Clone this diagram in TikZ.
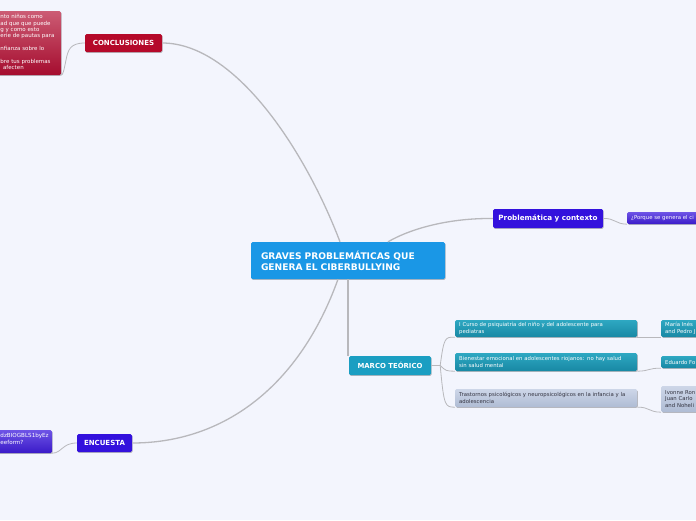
\documentclass[tikz,border=0pt]{standalone}
\usepackage{fontspec}
\setmainfont{DejaVu Sans}
\usetikzlibrary{shadows}
\definecolor{bg}{HTML}{F3F5FD}
\definecolor{linec}{HTML}{B8B8BC}
\definecolor{cblue}{HTML}{1A97E6}
\definecolor{cred}{HTML}{B5092A}
\definecolor{cindigo}{HTML}{3311DD}
\definecolor{cteal}{HTML}{1A9EC2}
\definecolor{tealtop}{HTML}{2EA8C2}
\definecolor{tealbot}{HTML}{1888A4}
\definecolor{graytop}{HTML}{CDD6E8}
\definecolor{graybot}{HTML}{AFBCD4}
\definecolor{purtop}{HTML}{6E54E6}
\definecolor{purbot}{HTML}{3A1AC8}
\definecolor{redtop}{HTML}{CC5C74}
\definecolor{redbot}{HTML}{A50C2E}
\definecolor{darktext}{HTML}{333340}
\tikzset{
  shadowed/.style={drop shadow={shadow xshift=0.6pt,shadow yshift=-0.9pt,opacity=0.25,fill=black}},
  topic/.style={shadowed,rounded corners=1.5pt,text=white,font=\bfseries\fontsize{7}{8.5}\selectfont,inner sep=0pt,align=center},
  mainbox/.style={shadowed,rounded corners=1.5pt,fill=cblue,text=white,font=\bfseries\fontsize{9.1}{11}\selectfont,align=left,inner xsep=10pt,inner ysep=0pt},
  sub/.style={shadowed,rounded corners=1.5pt,font=\fontsize{5.35}{6.4}\selectfont,align=left,inner xsep=4pt,inner ysep=0pt,anchor=west},
  tealsub/.style={sub,top color=tealtop,bottom color=tealbot,text=white},
  graysub/.style={sub,top color=graytop,bottom color=graybot,text=darktext},
  pursub/.style={sub,top color=purtop,bottom color=purbot,text=white},
  mainline/.style={draw=linec,line width=1.3pt},
  subline/.style={draw=linec,line width=0.8pt}
}
\begin{document}
\begin{tikzpicture}[x=1pt,y=-1pt]
\useasboundingbox (0,0) rectangle (696,520);
\fill[bg] (0,0) rectangle (696,520);
\clip (0,0) rectangle (696,520);

% central
\node[mainbox,minimum width=194pt,minimum height=37pt,text width=174pt] (c) at (348,260.5)
  {GRAVES PROBLEMÁTICAS QUE\\GENERA EL CIBERBULLYING};

% topics
\node[topic,fill=cred,minimum width=77pt,minimum height=18pt] (concl) at (123.5,43) {CONCLUSIONES};
\node[topic,fill=cindigo,minimum width=110pt,minimum height=19pt,font=\bfseries\fontsize{7.2}{9}\selectfont] (prob) at (548,218.5) {Problemática y contexto};
\node[topic,fill=cteal,minimum width=82pt,minimum height=19pt,font=\bfseries\fontsize{6.9}{8}\selectfont] (marco) at (390,365.5) {MARCO TEÓRICO};
\node[topic,fill=cindigo,minimum width=55pt,minimum height=18pt] (enc) at (104.5,443) {ENCUESTA};

% left subtopics
\node[shadowed,rounded corners=1.5pt,top color=redtop,bottom color=redbot,minimum width=71pt,minimum height=64pt,inner sep=0pt] (conclsub) at (25.5,43) {};
\node[anchor=north west,text=white,font=\fontsize{5.5}{6.4}\selectfont,align=left,inner sep=0pt] (concltext) at (0.3,14.2)
  {nto niños como\\ad que que puede\\g y como esto\\erie de pautas para\\ \\nfianza sobre lo\\ \\bre tus problemas\\\hspace{2.5pt}afecten};

\node[shadowed,rounded corners=1.5pt,top color=purtop,bottom color=purbot,minimum width=57pt,minimum height=23pt,inner sep=0pt] (encsub) at (23.5,441.5) {};
\node[anchor=north west,text=white,font=\fontsize{5.6}{6.8}\selectfont,align=left,inner sep=0pt] (enctext) at (0.3,432.8)
  {dzBIOGBLS1byEz\\eeform?};

% problematica subtopic
\node[pursub,minimum width=75pt,minimum height=12pt,text width=67pt] (probsub) at (627,218) {¿Porque se genera el ci};

% marco children
\node[tealsub,minimum width=182pt,minimum height=17pt,text width=174pt] (m1) at (455,328.5)
  {I Curso de psiquiatría del niño y del adolescente para\\pediatras};
\node[tealsub,minimum width=182pt,minimum height=18pt,text width=174pt] (m2) at (455,362)
  {Bienestar emocional en adolescentes riojanos: no hay salud\\sin salud mental};
\node[graysub,minimum width=182pt,minimum height=18pt,text width=174pt] (m3) at (455,398)
  {Trastornos psicológicos y neuropsicológicos en la infancia y la\\adolescencia};

% grandchildren
\node[tealsub,minimum width=45pt,minimum height=17pt,text width=37pt] (g1) at (661,328.5) {María Inés\\and Pedro J};
\node[tealsub,minimum width=45pt,minimum height=12pt,text width=37pt] (g2) at (661,362) {Eduardo Fo};
\node[graysub,minimum width=45pt,minimum height=26pt,text width=37pt] (g3) at (661,399) {Ivonne Ron\\Juan Carlo\\and Noheli};

% connectors
\path[mainline] ([xshift=-8pt]c.north) .. controls (305,150) and (235,43) .. (concl.east);
\path[mainline] ([xshift=40pt]c.north) .. controls (412,228) and (450,218) .. (prob.west);
\path[mainline] (c.south) -- (marco.north -| c.south);
\path[mainline] ([xshift=-10pt]c.south) .. controls (300,385) and (225,443) .. (enc.east);

\path[subline] (concl.west) .. controls (70,43) and (68,50) .. (66,60) .. controls (64,70) and (63,75) .. (conclsub.south east);
\path[subline] (enc.west) .. controls (62,443) and (62,453) .. (encsub.south east);
\path[subline] (prob.east) .. controls (615,218) and (615,224) .. (probsub.south west);

\coordinate (mstub) at ([xshift=9pt]marco.east);
\path[subline] (marco.east) -- (mstub);
\path[subline] (mstub) .. controls (444,337) and (445,337) .. (m1.south west);
\path[subline] (mstub) .. controls (446,371) and (446,371) .. (m2.south west);
\path[subline] (mstub) .. controls (444,407) and (445,407) .. (m3.south west);
\path[subline] (m1.south east) -- (g1.south west);
\path[subline] (m2.south east) .. controls (650,371) and (648,368) .. (g2.south west);
\path[subline] (m3.south east) .. controls (650,407) and (648,412) .. (g3.south west);
\end{tikzpicture}
\end{document}
